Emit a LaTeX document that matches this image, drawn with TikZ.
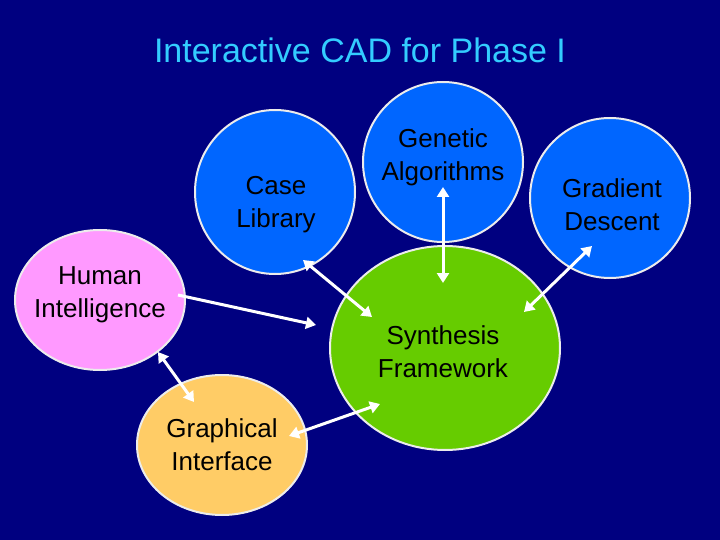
\documentclass[tikz,border=0pt]{standalone}
\usepackage{fontspec}
\setmainfont{Liberation Sans}
\usetikzlibrary{arrows.meta}
\definecolor{navy}{HTML}{000080}
\definecolor{ttl}{HTML}{33CCFF}
\definecolor{blu}{HTML}{0066FF}
\definecolor{pnk}{HTML}{FF99FF}
\definecolor{grn}{HTML}{66CC00}
\definecolor{ylw}{HTML}{FFCC66}
\begin{document}
\begin{tikzpicture}[x=1pt,y=-1pt,
  blob/.style={draw=white!85!gray,line width=2pt},
  lbl/.style={align=center,font=\fontsize{26}{33}\selectfont,text=black},
  arr/.style={draw=white,line width=3pt,-{Triangle[length=10pt,width=12pt]}},
  darr/.style={draw=white,line width=3pt,{Triangle[length=10pt,width=12pt]}-{Triangle[length=10pt,width=12pt]}}]
\fill[navy] (0,0) rectangle (720,540);
\useasboundingbox (0,0) rectangle (720,540);
\node[font=\fontsize{34}{40}\selectfont,text=ttl] (title) at (360,50) {Interactive CAD for Phase I};
\draw[blob,fill=blu] (275,192) circle[x radius=80,y radius=82];
\draw[blob,fill=blu] (443,162) circle[x radius=80,y radius=80];
\draw[blob,fill=blu] (610,198) circle[x radius=80,y radius=80];
\draw[blob,fill=pnk] (100,300) circle[x radius=85,y radius=70];
\draw[blob,fill=ylw] (222,445) circle[x radius=85,y radius=70];
\draw[blob,fill=grn] (445,348) circle[x radius=115,y radius=102];
\node[lbl] (case) at (276,205) {Case\\Library};
\node[lbl] (gen) at (443,157) {Genetic\\Algorithms};
\node[lbl] (grad) at (612,205) {Gradient\\Descent};
\node[lbl] (hum) at (100,295) {Human\\Intelligence};
\node[lbl] (gra) at (222,445) {Graphical\\Interface};
\node[lbl] (syn) at (443,352) {Synthesis\\Framework};
\coordinate (a1) at (178,295); \coordinate (a2) at (316,325);
\coordinate (b1) at (303,260); \coordinate (b2) at (372,317);
\coordinate (c1) at (443,187); \coordinate (c2) at (443,283);
\coordinate (d1) at (592,246); \coordinate (d2) at (524,312);
\coordinate (e1) at (158,352); \coordinate (e2) at (194,402);
\coordinate (f1) at (289,436); \coordinate (f2) at (380,404);
\draw[arr] (a1) -- (a2);
\draw[darr] (b1) -- (b2);
\draw[darr] (c1) -- (c2);
\draw[darr] (d1) -- (d2);
\draw[darr] (e1) -- (e2);
\draw[darr] (f1) -- (f2);
\end{tikzpicture}
\end{document}
